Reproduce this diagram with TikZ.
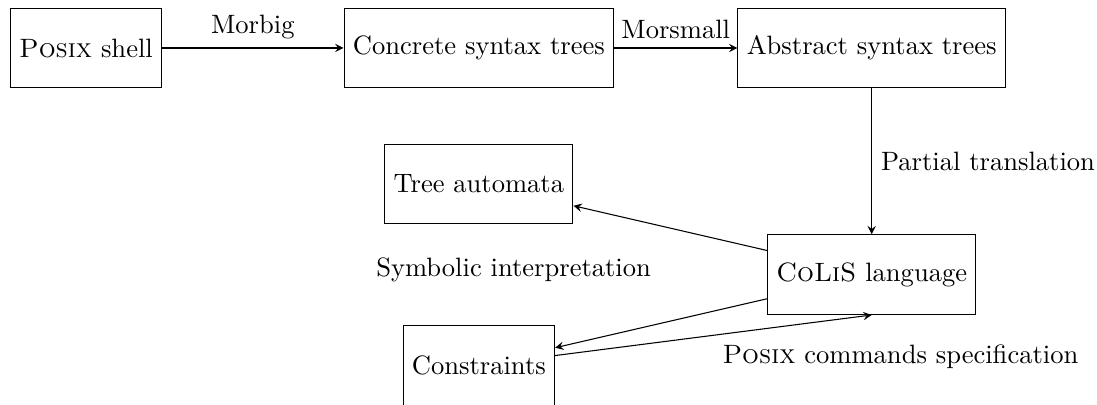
\documentclass[tikz,border=0pt]{standalone}
\usepackage{fontspec}
\usepackage{tikz}
\tikzset{
	stage/.style={draw, rectangle, minimum height=3em},
	flow/.style={->, >=stealth}
}

\begin{document}
\begin{tikzpicture}
	\useasboundingbox (-1.138,0.635) rectangle (13.382,-4.725);
	\node[stage] (shell) at (0,0) {\textsc{Posix} shell};
	\node[stage] (cst) at (5.2,0) {Concrete syntax trees};
	\node[stage] (ast) at (10.4,0) {Abstract syntax trees};
	\node[stage] (automata) at (5.2,-1.8) {Tree automata};
	\node[stage] (colis) at (10.4,-3) {\textsc{CoLiS} language};
	\node[stage] (constraints) at (5.2,-4.2) {Constraints};

	\draw[flow] (shell) -- node[above] {Morbig} (cst);
	\draw[flow] (cst) -- node[above] {Morsmall} (ast);
	\draw[flow] (ast) -- node[right] {Partial translation} (colis);
	\draw[flow] (colis) -- (automata);
	\draw[flow] (colis) -- (constraints);
	\draw[flow] (constraints) -- (colis.south);

	\node[anchor=base] (symbolic) at (5.66,-3.03) {Symbolic interpretation};
	\node[anchor=base] (spec) at (10.78,-4.18) {\textsc{Posix} commands specification};
\end{tikzpicture}
\end{document}
